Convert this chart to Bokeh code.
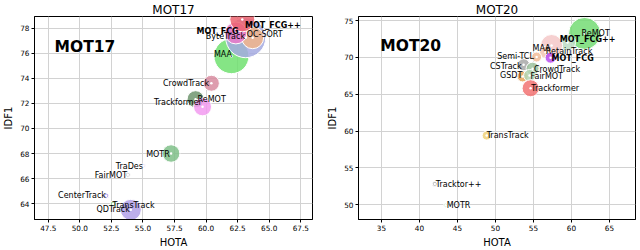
from bokeh.plotting import figure
from bokeh.layouts import row
from bokeh.models import ColumnDataSource, FixedTicker, PrintfTickFormatter, Label, Range1d
from bokeh.embed import file_html
from bokeh.resources import INLINE
from bokeh.core.properties import value

FONT = "DejaVu Sans"

# ---------------- MOT17 data ----------------
names17 = ["MAA", "ByteTrack", "OC-SORT", "MOT_FCG", "MOT_FCG++", "CrowdTrack", "ReMOT",
           "Trackformer", "MOTR", "TraDes", "FairMOT", "CenterTrack", "QDTrack", "TransTrack"]
hota17 = [62.01, 63.14, 63.69, 62.36, 62.87, 60.42, 59.17, 59.72, 57.23, 55.05, 53.80, 52.09, 54.04, 52.64]
idf1_17 = [75.76, 77.23, 77.23, 77.61, 78.69, 73.60, 72.33, 71.72, 68.00, 67.03, 66.31, 64.64, 63.51, 63.97]
bubble17 = [35, 40, 22, 22, 25, 16, 17, 18, 17.5, 4, 5, 5, 21, 6]
xticks17 = [47.5, 50.0, 52.5, 55.0, 57.5, 60.0, 62.5, 65.0, 67.5]
yticks17 = [64, 66, 68, 70, 72, 74, 76, 78]

# ---------------- MOT20 data ----------------
names20 = ["ReMOT", "MOT_FCG++", "MAA", "RetainTrack", "Semi-TCL", "MOT_FCG", "CSTrack",
           "CrowdTrack", "GSDT", "FairMOT", "Trackformer", "TransTrack", "Tracktor++", "MOTR"]
hota20 = [61.72, 59.48, 57.38, 56.59, 55.41, 57.25, 53.70, 54.88, 53.57, 54.49, 54.62, 48.84, 42.01, 43.45]
idf1_20 = [73.27, 72.03, 71.63, 70.71, 70.06, 69.97, 69.01, 68.48, 67.43, 67.56, 65.82, 59.39, 52.83, 49.94]
bubble20 = [32, 16, 22, 12, 10, 11, 12, 13, 11, 12, 17, 9, 5, 4]
xticks20 = [35, 40, 45, 50, 55, 60, 65]
yticks20 = [50, 55, 60, 65, 70, 75]

# ---------------- styles ----------------
colors17 = ["#70e070", "#a4aae0", "#f0b48a", "#ea78c8", "#ec6470", "#d88ca0", "#6f956f",
            "#f29af0", "#7fbf88", "#d8c8f0", "#c8c8c8", "#9a80e0", "#b0a0e8", "#90cf90"]
align17 = ["right", "right", "left", "right", "left", "right", "left",
           "right", "right", "right", "right", "right", "right", "left"]
bold17 = [False, False, False, True, True, False, False, False, False, False, False, False, False, False]
dx17 = [0.5, -0.7, -6, 2.7, 2.8, -2.3, 2, -0.7, -1.3, -0.7, -0.7, -0.3, -1, -0.7]
dy17 = [-1.7, -1, -3.7, -1.7, 6.3, 0.3, 0.5, -4.2, 1, 1, 0.6, -0.3, -0.7, 1]

colors20 = ["#74dc74", "#bcdcc4", "#f4c8c8", "#f2c6b2", "#f2bc98", "#b84cf0", "#a8a8a8",
            "#9ec29e", "#e8a65a", "#b4d6b4", "#f27272", "#f0d27a", "#a8a8a8", "#b0e4b0"]
align20 = ["left", "left", "right", "left", "right", "left", "right",
           "left", "right", "left", "left", "left", "left", "left"]
bold20 = [False, True, False, False, False, True, False, False, False, False, False, False, False, False]
dx20 = [-3, -7.7, -1, 0.3, -2.7, 1, -2, 1.3, -0.3, 1, 0.7, 0, 1, 1]
dy20 = [-0.2, -3, 3, -0.3, -1, 0.6, 1.7, 1.3, -1, 1, 0, 0, 1, 0]


def make_plot(title, names, xs, ys, sizes, colors, aligns, bolds, dxs, dys,
              xr, yr, xticks, yticks, xfmt, big, bigx, bigy, width, bl, br):
    p = figure(width=width, height=250, output_backend="svg", toolbar_location=None,
               x_range=Range1d(*xr), y_range=Range1d(*yr),
               min_border_left=bl, min_border_right=br, min_border_top=14, min_border_bottom=26)
    p.title.text = title
    p.title.align = "center"
    p.title.text_font = FONT
    p.title.text_font_size = "12px"
    p.title.text_font_style = "normal"
    p.title.text_color = "black"
    p.title.standoff = 0
    p.title.offset = 0
    p.background_fill_color = "white"
    p.border_fill_color = "white"
    p.outline_line_color = "black"
    p.outline_line_width = 1

    for ax in (p.xaxis[0], p.yaxis[0]):
        ax.axis_line_color = "black"
        ax.major_tick_line_color = "black"
        ax.major_tick_in = 0
        ax.major_tick_out = 3
        ax.minor_tick_line_color = None
        ax.major_label_text_font = FONT
        ax.major_label_text_font_size = "7.3px"
        ax.major_label_text_color = "black"
        ax.axis_label_text_font = FONT
        ax.axis_label_text_font_size = "10px"
        ax.axis_label_text_font_style = "normal"
        ax.axis_label_text_color = "black"
        ax.major_label_standoff = 2
        ax.axis_label_standoff = 3
    p.xaxis[0].ticker = FixedTicker(ticks=xticks)
    p.yaxis[0].ticker = FixedTicker(ticks=yticks)
    p.xaxis[0].formatter = PrintfTickFormatter(format=xfmt)
    p.yaxis[0].formatter = PrintfTickFormatter(format="%d")
    p.xaxis[0].axis_label = "HOTA"
    p.yaxis[0].axis_label = "IDF1"
    p.grid.grid_line_color = "#d2d2d2"
    p.grid.grid_line_width = 1

    src = ColumnDataSource(dict(x=xs, y=ys, s=sizes, c=colors))
    p.scatter("x", "y", size="s", fill_color="c", fill_alpha=0.85,
              line_color="white", line_width=1, source=src)
    p.scatter("x", "y", size=2.5, fill_color="white", line_color=None, source=src)

    for al in ("left", "right"):
        for bd in (False, True):
            idx = [i for i in range(len(names)) if aligns[i] == al and bolds[i] == bd]
            if not idx:
                continue
            s = ColumnDataSource(dict(x=[xs[i] for i in idx], y=[ys[i] for i in idx],
                                      t=[names[i] for i in idx],
                                      dx=[dxs[i] for i in idx], dy=[dys[i] for i in idx]))
            p.text("x", "y", text="t", x_offset="dx", y_offset="dy", source=s,
                   text_align=al, text_baseline="alphabetic",
                   text_font=value(FONT), text_font_size="8px",
                   text_font_style="bold" if bd else "normal", text_color="black")

    p.add_layout(Label(x=bigx, y=bigy, text=big, text_font=FONT,
                       text_font_size="15.5px", text_font_style="bold",
                       text_baseline="alphabetic", text_color="black"))
    return p


p1 = make_plot("MOT17", names17, hota17, idf1_17, bubble17, colors17, align17, bold17, dx17, dy17,
               (46.41, 68.43), (62.74, 78.92), xticks17, yticks17, "%.1f", "MOT17", 48.0, 76.5,
               320, 29, 8)
p2 = make_plot("MOT20", names20, hota20, idf1_20, bubble20, colors20, align20, bold20, dx20, dy20,
               (31.98, 68.42), (47.99, 75.57), xticks20, yticks20, "%d", "MOT20", 34.85, 71.59,
               320, 38, 5)

layout = row(p1, p2, styles={"position": "absolute", "left": "0px", "top": "0px"})
open("out.html", "w").write(file_html(layout, INLINE))
